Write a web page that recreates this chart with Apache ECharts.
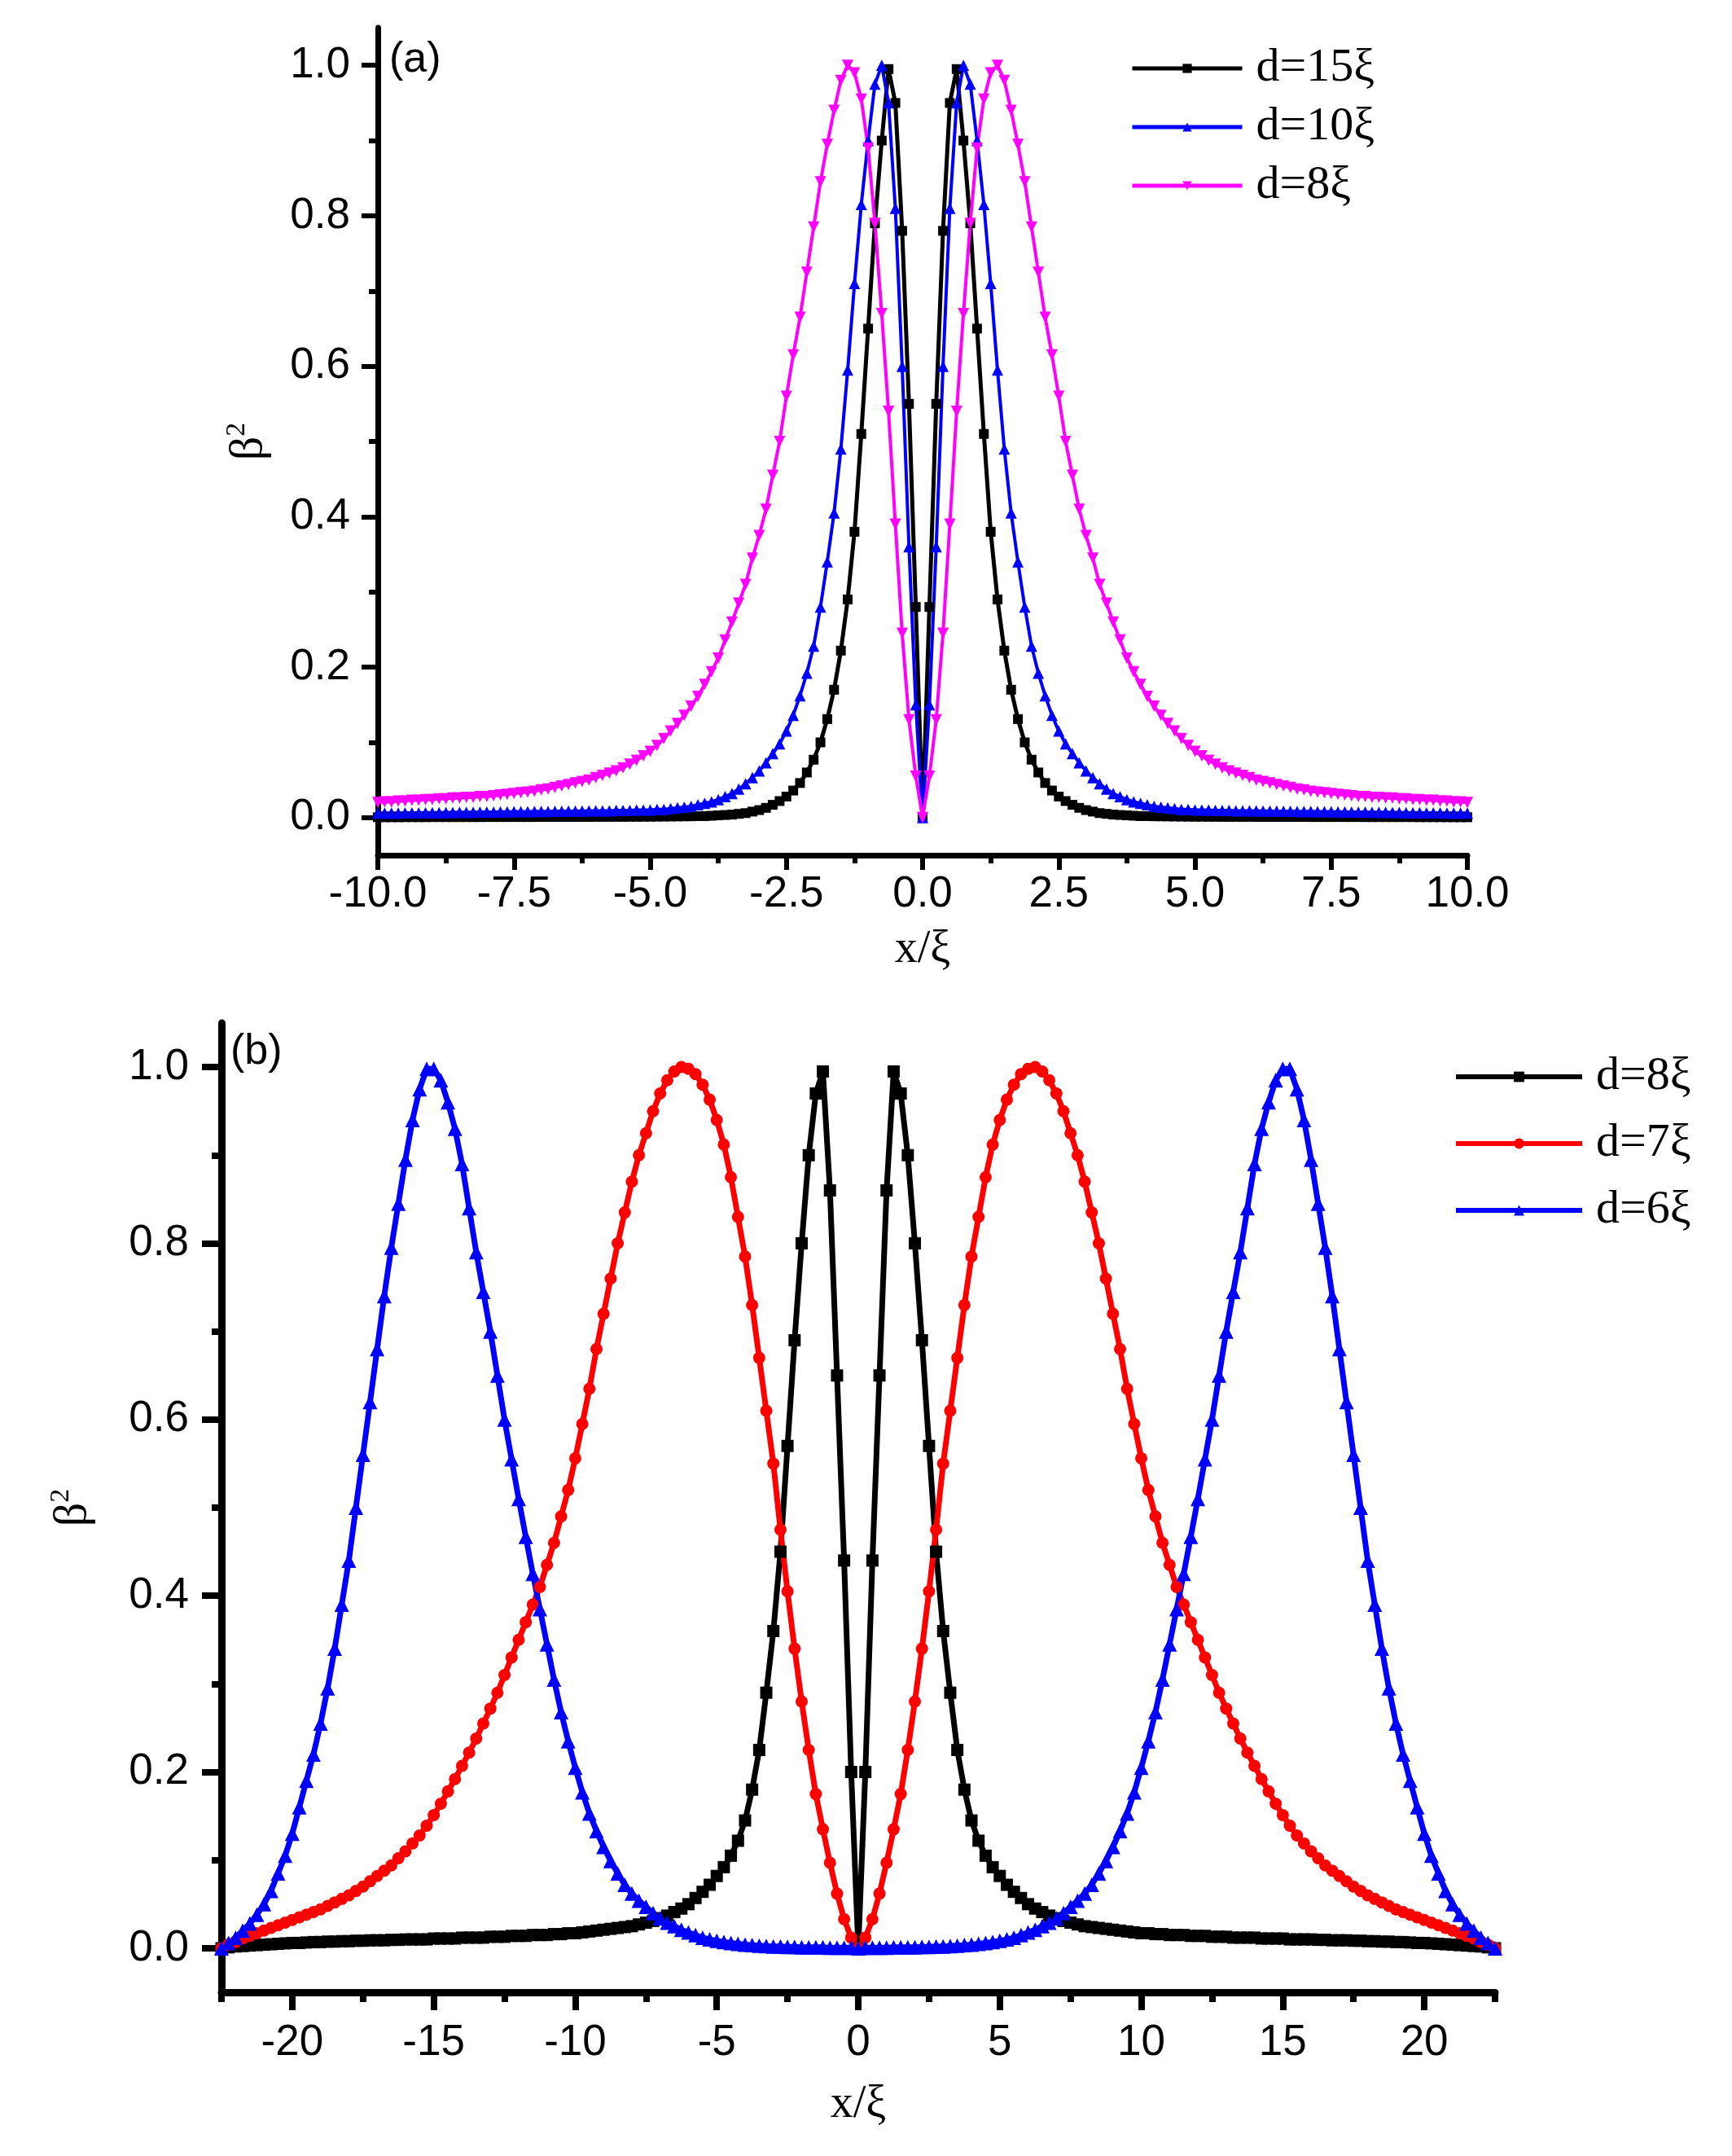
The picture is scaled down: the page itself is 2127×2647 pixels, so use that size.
<!DOCTYPE html>
<html>
<head>
<meta charset="utf-8">
<script src="https://cdn.jsdelivr.net/npm/echarts@6/dist/echarts.min.js"></script>
<style>
  html, body { margin: 0; padding: 0; background: #fff; }
  #chart { width: 2127px; height: 2647px; }
</style>
</head>
<body>
<div id="chart"></div>
<script>
// ---- panel (a): x/xi sample positions and beta^2 values ----
var xTop = [
  -10,-9.875,-9.75,-9.625,-9.5,-9.375,-9.25,-9.125,
  -9,-8.875,-8.75,-8.625,-8.5,-8.375,-8.25,-8.125,
  -8,-7.875,-7.75,-7.625,-7.5,-7.375,-7.25,-7.125,
  -7,-6.875,-6.75,-6.625,-6.5,-6.375,-6.25,-6.125,
  -6,-5.875,-5.75,-5.625,-5.5,-5.375,-5.25,-5.125,
  -5,-4.875,-4.75,-4.625,-4.5,-4.375,-4.25,-4.125,
  -4,-3.875,-3.75,-3.625,-3.5,-3.375,-3.25,-3.125,
  -3,-2.875,-2.75,-2.625,-2.5,-2.375,-2.25,-2.125,
  -2,-1.875,-1.75,-1.625,-1.5,-1.375,-1.25,-1.125,
  -1,-0.875,-0.75,-0.625,-0.5,-0.375,-0.25,-0.125,
  0,0.125,0.25,0.375,0.5,0.625,0.75,0.875,
  1,1.125,1.25,1.375,1.5,1.625,1.75,1.875,
  2,2.125,2.25,2.375,2.5,2.625,2.75,2.875,
  3,3.125,3.25,3.375,3.5,3.625,3.75,3.875,
  4,4.125,4.25,4.375,4.5,4.625,4.75,4.875,
  5,5.125,5.25,5.375,5.5,5.625,5.75,5.875,
  6,6.125,6.25,6.375,6.5,6.625,6.75,6.875,
  7,7.125,7.25,7.375,7.5,7.625,7.75,7.875,
  8,8.125,8.25,8.375,8.5,8.625,8.75,8.875,
  9,9.125,9.25,9.375,9.5,9.625,9.75,9.875,
  10
];

var d15 = [
  0.0005,0.0005,0.0005,0.0005,0.0006,0.0006,0.0006,0.0006,
  0.0007,0.0007,0.0007,0.0007,0.0007,0.0007,0.0007,0.0007,
  0.0008,0.0008,0.0008,0.0008,0.0008,0.0008,0.0008,0.0008,
  0.0009,0.0009,0.0009,0.0009,0.0009,0.0009,0.0009,0.0009,
  0.001,0.001,0.001,0.001,0.001,0.0011,0.0011,0.0012,
  0.0012,0.0013,0.0014,0.0015,0.0016,0.0017,0.0018,0.002,
  0.002,0.0025,0.003,0.0035,0.004,0.005,0.006,0.008,
  0.01,0.013,0.017,0.022,0.028,0.036,0.046,0.06,
  0.077,0.1,0.131,0.17,0.222,0.29,0.38,0.51,
  0.65,0.79,0.9,0.995,0.95,0.78,0.55,0.28,
  0,
  0.28,0.55,0.78,0.95,0.995,0.9,0.79,0.65,
  0.51,0.38,0.29,0.222,0.17,0.131,0.1,0.077,
  0.06,0.046,0.036,0.028,0.022,0.017,0.013,0.01,
  0.008,0.006,0.005,0.004,0.0035,0.003,0.0025,0.002,
  0.002,0.0018,0.0017,0.0016,0.0015,0.0014,0.0013,0.0012,
  0.0012,0.0011,0.0011,0.001,0.001,0.001,0.001,0.001,
  0.0009,0.0009,0.0009,0.0009,0.0009,0.0009,0.0009,0.0009,
  0.0008,0.0008,0.0008,0.0008,0.0008,0.0008,0.0008,0.0008,
  0.0007,0.0007,0.0007,0.0007,0.0007,0.0007,0.0007,0.0007,
  0.0006,0.0006,0.0006,0.0006,0.0005,0.0005,0.0005,0.0005
];

var d10 = [
  0.006,0.006,0.006,0.0061,0.0062,0.0063,0.0064,0.0065,
  0.0066,0.0067,0.0068,0.0069,0.007,0.0071,0.0072,0.0073,
  0.0074,0.0075,0.0076,0.0077,0.0078,0.0079,0.008,0.0081,
  0.0082,0.0083,0.0084,0.0085,0.0086,0.0087,0.0088,0.009,
  0.009,0.009,0.009,0.0095,0.0095,0.0095,0.01,0.01,
  0.01,0.011,0.011,0.012,0.013,0.014,0.015,0.017,
  0.019,0.021,0.024,0.028,0.032,0.038,0.045,0.053,
  0.062,0.073,0.085,0.098,0.115,0.136,0.162,0.192,
  0.228,0.28,0.34,0.405,0.49,0.595,0.71,0.815,
  0.9,0.975,1.0,0.95,0.81,0.6,0.36,0.15,
  0,
  0.15,0.36,0.6,0.81,0.95,1.0,0.975,0.9,
  0.815,0.71,0.595,0.49,0.405,0.34,0.28,0.228,
  0.192,0.162,0.136,0.115,0.098,0.085,0.073,0.062,
  0.053,0.045,0.038,0.032,0.028,0.024,0.021,0.019,
  0.017,0.015,0.014,0.013,0.012,0.011,0.011,0.01,
  0.01,0.01,0.0095,0.0095,0.0095,0.009,0.009,0.009,
  0.009,0.0088,0.0087,0.0086,0.0085,0.0084,0.0083,0.0082,
  0.0081,0.008,0.0079,0.0078,0.0077,0.0076,0.0075,0.0074,
  0.0073,0.0072,0.0071,0.007,0.0069,0.0068,0.0067,0.0066,
  0.0065,0.0064,0.0063,0.0062,0.0061,0.006,0.006,0.006
];

var d8a = [
  0.02,0.021,0.021,0.022,0.022,0.023,0.023,0.024,
  0.024,0.025,0.025,0.026,0.026,0.027,0.027,0.028,
  0.028,0.029,0.03,0.031,0.032,0.033,0.034,0.035,
  0.037,0.038,0.04,0.042,0.044,0.046,0.048,0.05,
  0.053,0.056,0.059,0.062,0.066,0.071,0.076,0.082,
  0.088,0.096,0.105,0.115,0.125,0.136,0.148,0.161,
  0.177,0.194,0.212,0.236,0.26,0.285,0.31,0.345,
  0.375,0.41,0.455,0.5,0.56,0.615,0.665,0.725,
  0.785,0.845,0.895,0.94,0.98,1.0,0.99,0.955,
  0.89,0.79,0.67,0.54,0.39,0.245,0.13,0.055,
  0,
  0.055,0.13,0.245,0.39,0.54,0.67,0.79,0.89,
  0.955,0.99,1.0,0.98,0.94,0.895,0.845,0.785,
  0.725,0.665,0.615,0.56,0.5,0.455,0.41,0.375,
  0.345,0.31,0.285,0.26,0.236,0.212,0.194,0.177,
  0.161,0.148,0.136,0.125,0.115,0.105,0.096,0.088,
  0.082,0.076,0.071,0.066,0.062,0.059,0.056,0.053,
  0.05,0.048,0.046,0.044,0.042,0.04,0.038,0.037,
  0.035,0.034,0.033,0.032,0.031,0.03,0.029,0.028,
  0.028,0.027,0.027,0.026,0.026,0.025,0.025,0.024,
  0.024,0.023,0.023,0.022,0.022,0.021,0.021,0.02
];

// ---- panel (b) ----
var xBot = [
  -22.5,-22.25,
  -22,-21.75,-21.5,-21.25, -21,-20.75,-20.5,-20.25,
  -20,-19.75,-19.5,-19.25, -19,-18.75,-18.5,-18.25,
  -18,-17.75,-17.5,-17.25, -17,-16.75,-16.5,-16.25,
  -16,-15.75,-15.5,-15.25, -15,-14.75,-14.5,-14.25,
  -14,-13.75,-13.5,-13.25, -13,-12.75,-12.5,-12.25,
  -12,-11.75,-11.5,-11.25, -11,-10.75,-10.5,-10.25,
  -10,-9.75,-9.5,-9.25, -9,-8.75,-8.5,-8.25,
  -8,-7.75,-7.5,-7.25, -7,-6.75,-6.5,-6.25,
  -6,-5.75,-5.5,-5.25, -5,-4.75,-4.5,-4.25,
  -4,-3.75,-3.5,-3.25, -3,-2.75,-2.5,-2.25,
  -2,-1.75,-1.5,-1.25, -1,-0.75,-0.5,-0.25,
  0,0.25,0.5,0.75, 1,1.25,1.5,1.75,
  2,2.25,2.5,2.75, 3,3.25,3.5,3.75,
  4,4.25,4.5,4.75, 5,5.25,5.5,5.75,
  6,6.25,6.5,6.75, 7,7.25,7.5,7.75,
  8,8.25,8.5,8.75, 9,9.25,9.5,9.75,
  10,10.25,10.5,10.75, 11,11.25,11.5,11.75,
  12,12.25,12.5,12.75, 13,13.25,13.5,13.75,
  14,14.25,14.5,14.75, 15,15.25,15.5,15.75,
  16,16.25,16.5,16.75, 17,17.25,17.5,17.75,
  18,18.25,18.5,18.75, 19,19.25,19.5,19.75,
  20,20.25,20.5,20.75, 21,21.25,21.5,21.75,
  22,22.25,22.5
];

var d8b = [
  0,0.001,0.002,0.0025,0.003,0.0035,0.004,0.0045,0.005,0.0055,
  0.006,0.006,0.0065,0.007,0.007,0.0075,0.0075,0.008,0.008,0.0085,
  0.0085,0.009,0.009,0.009,0.0095,0.0095,0.01,0.01,0.01,0.01,
  0.011,0.011,0.011,0.011,0.012,0.012,0.012,0.012,0.013,0.013,
  0.013,0.014,0.014,0.014,0.015,0.015,0.015,0.016,0.016,0.017,
  0.017,0.018,0.019,0.02,0.021,0.022,0.023,0.024,0.025,0.027,
  0.029,0.031,0.034,0.037,0.041,0.045,0.05,0.057,0.064,0.072,
  0.082,0.092,0.105,0.122,0.145,0.18,0.225,0.29,0.36,0.45,
  0.57,0.69,0.8,0.9,0.97,0.995,0.86,0.65,0.44,0.2,
  0,
  0.2,0.44,0.65,0.86,0.995,0.97,0.9,0.8,0.69,0.57,
  0.45,0.36,0.29,0.225,0.18,0.145,0.122,0.105,0.092,0.082,
  0.072,0.064,0.057,0.05,0.045,0.041,0.037,0.034,0.031,0.029,
  0.027,0.025,0.024,0.023,0.022,0.021,0.02,0.019,0.018,0.017,
  0.017,0.016,0.016,0.015,0.015,0.015,0.014,0.014,0.014,0.013,
  0.013,0.013,0.012,0.012,0.012,0.012,0.011,0.011,0.011,0.011,
  0.01,0.01,0.01,0.01,0.0095,0.0095,0.009,0.009,0.009,0.0085,
  0.0085,0.008,0.008,0.0075,0.0075,0.007,0.007,0.0065,0.006,0.006,
  0.0055,0.005,0.0045,0.004,0.0035,0.003,0.0025,0.002,0.001,0
];

var d7 = [
  0,0.004,0.007,0.011,0.014,0.017,0.02,0.023,0.026,0.029,
  0.032,0.035,0.038,0.041,0.044,0.048,0.052,0.056,0.06,0.065,
  0.07,0.076,0.082,0.088,0.094,0.102,0.11,0.119,0.128,0.139,
  0.151,0.164,0.178,0.192,0.207,0.222,0.238,0.255,0.272,0.29,
  0.31,0.33,0.35,0.37,0.39,0.41,0.435,0.46,0.49,0.52,
  0.556,0.595,0.635,0.68,0.72,0.76,0.8,0.835,0.87,0.9,
  0.925,0.95,0.97,0.985,0.995,1.0,0.998,0.992,0.98,0.963,
  0.94,0.912,0.875,0.83,0.785,0.73,0.67,0.61,0.55,0.475,
  0.405,0.34,0.28,0.225,0.175,0.135,0.097,0.062,0.033,0.012,
  0,
  0.012,0.033,0.062,0.097,0.135,0.175,0.225,0.28,0.34,0.405,
  0.475,0.55,0.61,0.67,0.73,0.785,0.83,0.875,0.912,0.94,
  0.963,0.98,0.992,0.998,1.0,0.995,0.985,0.97,0.95,0.925,
  0.9,0.87,0.835,0.8,0.76,0.72,0.68,0.635,0.595,0.556,
  0.52,0.49,0.46,0.435,0.41,0.39,0.37,0.35,0.33,0.31,
  0.29,0.272,0.255,0.238,0.222,0.207,0.192,0.178,0.164,0.151,
  0.139,0.128,0.119,0.11,0.102,0.094,0.088,0.082,0.076,0.07,
  0.065,0.06,0.056,0.052,0.048,0.044,0.041,0.038,0.035,0.032,
  0.029,0.026,0.023,0.02,0.017,0.014,0.011,0.007,0.004,0
];

var d6 = [
  0,0.006,0.012,0.02,0.028,0.038,0.05,0.065,0.085,0.105,
  0.13,0.16,0.19,0.22,0.255,0.295,0.34,0.39,0.44,0.5,
  0.56,0.62,0.68,0.74,0.795,0.845,0.895,0.94,0.975,0.998,
  0.998,0.985,0.96,0.93,0.89,0.84,0.79,0.745,0.7,0.65,
  0.6,0.555,0.51,0.467,0.425,0.385,0.345,0.305,0.268,0.235,
  0.205,0.177,0.153,0.133,0.115,0.099,0.085,0.072,0.062,0.054,
  0.047,0.04,0.034,0.029,0.025,0.021,0.018,0.015,0.012,0.01,
  0.0085,0.007,0.006,0.005,0.004,0.0035,0.003,0.0025,0.002,0.002,
  0.0015,0.0015,0.001,0.001,0.001,0.001,0.0005,0.0005,0.0005,0.0005,
  0,
  0.0005,0.0005,0.0005,0.0005,0.001,0.001,0.001,0.001,0.0015,0.0015,
  0.002,0.002,0.0025,0.003,0.0035,0.004,0.005,0.006,0.007,0.0085,
  0.01,0.012,0.015,0.018,0.021,0.025,0.029,0.034,0.04,0.047,
  0.054,0.062,0.072,0.085,0.099,0.115,0.133,0.153,0.177,0.205,
  0.235,0.268,0.305,0.345,0.385,0.425,0.467,0.51,0.555,0.6,
  0.65,0.7,0.745,0.79,0.84,0.89,0.93,0.96,0.985,0.998,
  0.998,0.975,0.94,0.895,0.845,0.795,0.74,0.68,0.62,0.56,
  0.5,0.44,0.39,0.34,0.295,0.255,0.22,0.19,0.16,0.13,
  0.105,0.085,0.065,0.05,0.038,0.028,0.02,0.012,0.006,0
];

// ---- ticks ----
var topXTicks = [-10, -7.5, -5, -2.5, 0, 2.5, 5, 7.5, 10];
var topXMinor = [-8.75, -6.25, -3.75, -1.25, 1.25, 3.75, 6.25, 8.75];
var botXTicks = [-20, -15, -10, -5, 0, 5, 10, 15, 20];
var botXMinor = [-22.5, -17.5, -12.5, -7.5, -2.5, 2.5, 7.5, 12.5, 17.5, 22.5];
var yTicks = [0, 0.2, 0.4, 0.6, 0.8, 1.0];
var yMinor = [0.1, 0.3, 0.5, 0.7, 0.9];

function pairs(xs, ys) {
    return xs.map(function (x, i) { return [x, ys[i]]; });
}

var sans = 'Liberation Sans';
var serif = 'Liberation Serif';

function majorX(gridIndex, min, max, ticks, fmt, lineW, tickLen, labelMargin, nameGap) {
    return {
        type: 'value', gridIndex: gridIndex, min: min, max: max, position: 'bottom',
        axisLine: { show: true, onZero: false, lineStyle: { color: '#000', width: lineW } },
        axisTick: { show: true, customValues: ticks, length: tickLen, lineStyle: { color: '#000', width: lineW - 1 } },
        axisLabel: { customValues: ticks, formatter: fmt, margin: labelMargin,
                     color: '#000', fontFamily: sans, fontSize: 53 },
        splitLine: { show: false },
        name: 'x/ξ', nameLocation: 'middle', nameGap: nameGap,
        nameTextStyle: { color: '#000', fontFamily: serif, fontSize: 56 }
    };
}
function minorX(gridIndex, min, max, ticks, lineW, tickLen) {
    return {
        type: 'value', gridIndex: gridIndex, min: min, max: max, position: 'bottom',
        axisLine: { show: false, onZero: false },
        axisTick: { show: true, customValues: ticks, length: tickLen, lineStyle: { color: '#000', width: lineW - 1 } },
        axisLabel: { show: false },
        splitLine: { show: false }
    };
}
function majorY(gridIndex, lineW, tickLen, labelMargin, nameGap) {
    return {
        type: 'value', gridIndex: gridIndex, min: -0.05, max: 1.05, position: 'left',
        axisLine: { show: true, onZero: false, lineStyle: { color: '#000', width: lineW } },
        axisTick: { show: true, customValues: yTicks, length: tickLen, lineStyle: { color: '#000', width: lineW - 1 } },
        axisLabel: { customValues: yTicks, formatter: function (v) { return v.toFixed(1); },
                     margin: labelMargin, color: '#000', fontFamily: sans, fontSize: 53 },
        splitLine: { show: false },
        name: '{b|β}{s|2}', nameLocation: 'middle', nameGap: nameGap, nameRotate: 90,
        nameTextStyle: {
            color: '#000',
            rich: {
                b: { fontFamily: serif, fontSize: 58, color: '#000' },
                s: { fontFamily: serif, fontSize: 34, color: '#000', padding: [0, 0, 30, 0] }
            }
        }
    };
}
function minorY(gridIndex, lineW, tickLen) {
    return {
        type: 'value', gridIndex: gridIndex, min: -0.05, max: 1.05, position: 'left',
        axisLine: { show: false, onZero: false },
        axisTick: { show: true, customValues: yMinor, length: tickLen, lineStyle: { color: '#000', width: lineW - 1 } },
        axisLabel: { show: false },
        splitLine: { show: false }
    };
}

function curve(name, xi, yi, xs, ys, color, symbol, size, rotate, width) {
    return {
        name: name, type: 'line', xAxisIndex: xi, yAxisIndex: yi,
        data: pairs(xs, ys),
        symbol: symbol, symbolSize: size, symbolRotate: rotate, showAllSymbol: true,
        lineStyle: { color: color, width: width },
        itemStyle: { color: color, borderWidth: 0 },
        emphasis: { disabled: true },
        animation: false
    };
}

var legendText = { color: '#000', fontFamily: serif, fontSize: 58, lineHeight: 62, padding: [0, 0, 0, 12] };
function stripTag(name) { return name.replace(/^[ab]:/, ''); }

var option = {
    backgroundColor: '#fff',
    animation: false,
    title: [
        { text: '(a)', left: 478, top: 47, padding: 0,
          textStyle: { color: '#000', fontFamily: sans, fontSize: 52, fontWeight: 'normal', lineHeight: 54 } },
        { text: '(b)', left: 283, top: 1265, padding: 0,
          textStyle: { color: '#000', fontFamily: sans, fontSize: 52, fontWeight: 'normal', lineHeight: 54 } }
    ],
    legend: [
        { data: ['a:d=15ξ', 'a:d=10ξ', 'a:d=8ξ'], orient: 'vertical', left: 1388, top: 53,
          itemWidth: 135, itemHeight: 14, itemGap: 10, padding: 0, formatter: stripTag,
          lineStyle: { width: 5 },
          textStyle: legendText, selectedMode: false },
        { data: ['b:d=8ξ', 'b:d=7ξ', 'b:d=6ξ'], orient: 'vertical', left: 1785, top: 1291,
          itemWidth: 155, itemHeight: 16, itemGap: 20, padding: 0, formatter: stripTag,
          lineStyle: { width: 6 },
          textStyle: legendText, selectedMode: false }
    ],
    grid: [
        { left: 464, top: 34, width: 1338, height: 1016 },
        { left: 272, top: 1256, width: 1564, height: 1190 }
    ],
    xAxis: [
        majorX(0, -10, 10, topXTicks, function (v) { return v.toFixed(1); }, 7, 18, 22, 88),
        minorX(0, -10, 10, topXMinor, 7, 10),
        majorX(1, -22.5, 22.5, botXTicks, function (v) { return String(v); }, 9, 22, 36, 110),
        minorX(1, -22.5, 22.5, botXMinor, 9, 12)
    ],
    yAxis: [
        majorY(0, 7, 20, 34, 126),
        minorY(0, 7, 11),
        majorY(1, 9, 24, 40, 150),
        minorY(1, 9, 12)
    ],
    series: [
        curve('a:d=15ξ', 0, 0, xTop, d15, '#000000', 'rect', 12, 0, 5),
        curve('a:d=10ξ', 0, 0, xTop, d10, '#0000ff', 'triangle', 14, 0, 4),
        curve('a:d=8ξ', 0, 0, xTop, d8a, '#ff00ff', 'triangle', 14, 180, 4),
        curve('b:d=8ξ', 2, 2, xBot, d8b, '#000000', 'rect', 15, 0, 7),
        curve('b:d=7ξ', 2, 2, xBot, d7, '#ff0000', 'circle', 15, 0, 7),
        curve('b:d=6ξ', 2, 2, xBot, d6, '#0000ff', 'triangle', 18, 0, 7)
    ]
};

var chart = echarts.init(document.getElementById('chart'));
chart.setOption(option);
</script>
</body>
</html>
